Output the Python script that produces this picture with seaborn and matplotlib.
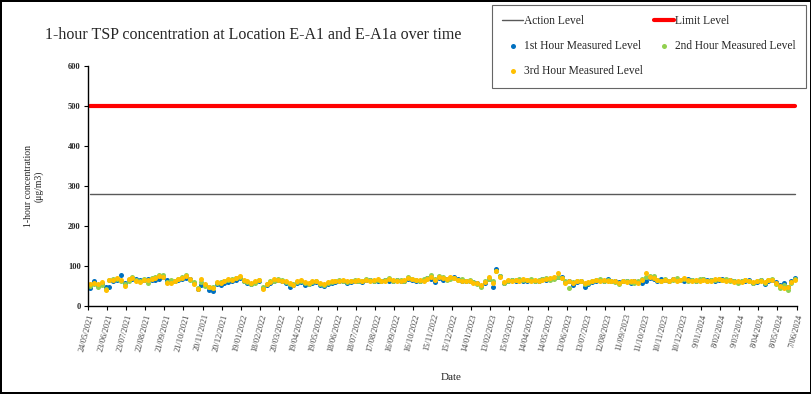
import matplotlib.pyplot as plt
import matplotlib.dates as mdates
import numpy as np
import pandas as pd
import seaborn as sns

# valores (ug/m3), una medicion cada 6 dias
hour1 = [46, 64, 52, 56, 48, 49, 62, 65, 79, 59,
         66, 68, 67, 66, 66, 67, 66, 65, 68, 72,
         66, 62, 63, 66, 68, 70, 68, 57, 42, 52,
         52, 40, 39, 55, 53, 58, 60, 64, 66, 70,
         62, 57, 55, 60, 62, 45, 52, 58, 62, 65,
         62, 58, 47, 53, 57, 60, 52, 55, 58, 60,
         53, 50, 55, 57, 60, 62, 63, 58, 60, 64,
         62, 60, 66, 66, 63, 64, 62, 65, 62, 63,
         65, 64, 63, 68, 66, 63, 64, 66, 70, 68,
         61, 70, 66, 68, 70, 72, 68, 64, 64, 63,
         60, 57, 50, 58, 68, 47, 93, 75, 58, 62,
         65, 64, 66, 63, 64, 66, 62, 64, 67, 66,
         68, 70, 73, 72, 60, 62, 52, 60, 62, 48,
         55, 60, 64, 66, 62, 68, 64, 62, 60, 63,
         62, 57, 62, 60, 57, 64, 70, 68, 64, 68,
         66, 64, 68, 65, 66, 64, 68, 66, 64, 66,
         67, 65, 66, 63, 66, 68, 65, 66, 64, 60,
         62, 64, 66, 57, 60, 66, 55, 64, 66, 60,
         52, 58, 48, 62, 70]
hour2 = [51, 55, 49, 53, 43, 65, 67, 67, 64, 55,
         64, 73, 66, 64, 67, 57, 70, 74, 77, 79,
         61, 66, 62, 67, 72, 77, 65, 60, 46, 60,
         50, 48, 47, 58, 60, 62, 66, 68, 70, 72,
         64, 60, 56, 58, 66, 48, 55, 62, 64, 68,
         66, 60, 55, 56, 60, 64, 58, 56, 60, 62,
         55, 54, 58, 60, 62, 66, 64, 60, 62, 65,
         63, 62, 68, 66, 64, 65, 63, 66, 70, 64,
         66, 65, 64, 72, 68, 66, 64, 67, 71, 79,
         68, 76, 72, 66, 68, 70, 66, 67, 64, 65,
         61, 55, 48, 63, 69, 62, 88, 75, 58, 64,
         66, 65, 68, 66, 65, 67, 64, 66, 68, 70,
         66, 69, 72, 70, 62, 46, 60, 63, 64, 55,
         58, 62, 66, 68, 64, 66, 63, 60, 56, 62,
         63, 60, 58, 62, 68, 74, 75, 76, 66, 64,
         67, 64, 66, 70, 65, 68, 64, 66, 62, 67,
         68, 64, 66, 65, 67, 66, 68, 64, 62, 58,
         64, 66, 63, 58, 62, 66, 57, 66, 67, 55,
         45, 52, 40, 58, 68]
hour3 = [56, 59, 55, 60, 40, 65, 66, 70, 65, 51,
         67, 71, 62, 61, 66, 65, 68, 71, 75, 74,
         59, 57, 64, 68, 70, 76, 67, 55, 44, 67,
         55, 47, 45, 60, 58, 64, 68, 66, 70, 76,
         66, 62, 58, 64, 65, 42, 56, 60, 68, 66,
         64, 62, 58, 54, 62, 66, 60, 58, 62, 64,
         58, 56, 60, 62, 63, 64, 66, 62, 64, 62,
         66, 64, 65, 63, 66, 68, 62, 64, 68, 66,
         64, 62, 66, 70, 67, 65, 66, 64, 68, 73,
         66, 74, 70, 67, 72, 70, 66, 64, 62, 63,
         58, 57, 52, 60, 72, 58, 87, 74, 60, 65,
         64, 66, 64, 67, 66, 64, 66, 63, 66, 68,
         70, 72, 84, 70, 58, 64, 58, 62, 62, 57,
         60, 64, 65, 63, 66, 64, 62, 64, 58, 62,
         60, 63, 64, 58, 65, 82, 72, 70, 66, 64,
         66, 62, 68, 64, 66, 70, 65, 64, 66, 64,
         66, 64, 64, 67, 68, 66, 64, 66, 60, 62,
         60, 66, 64, 60, 62, 64, 60, 65, 66, 58,
         50, 46, 47, 60, 66]
action_level = 280
limit_level = 500
title = "1-hour TSP concentration at Location E-A1 and E-A1a over time"

dates = pd.date_range("2021-05-28", periods=len(hour1), freq="6D")
df = pd.DataFrame({"date": dates, "h1": hour1, "h2": hour2, "h3": hour3,
                   "action": action_level, "limit": limit_level})

sns.set_theme(style="ticks")
plt.rcParams["font.family"] = ["Liberation Serif", "DejaVu Serif"]

fig = plt.figure(figsize=(8.12, 3.94), dpi=100, edgecolor="black", linewidth=1.5)
ax = fig.add_axes([0.108, 0.223, 0.873, 0.609])

sns.lineplot(data=df, x="date", y="action", color="#595959", lw=1, ax=ax, label="Action Level")
sns.lineplot(data=df, x="date", y="limit", color="#ff0000", lw=3, ax=ax, label="Limit Level")
sns.scatterplot(data=df, x="date", y="h1", color="#0070c0", s=13, linewidth=0, ax=ax,
                label="1st Hour Measured Level")
sns.scatterplot(data=df, x="date", y="h2", color="#92d050", s=13, linewidth=0, ax=ax,
                label="2nd Hour Measured Level")
sns.scatterplot(data=df, x="date", y="h3", color="#ffc000", s=13, linewidth=0, ax=ax,
                label="3rd Hour Measured Level")

# ejes
ax.set_ylim(0, 600)
ax.set_yticks(np.arange(0, 601, 100))
ax.set_xlim(mdates.date2num(pd.Timestamp("2021-05-24")), mdates.date2num(pd.Timestamp("2024-06-07")))
ticks = pd.date_range("2021-05-24", "2024-06-07", freq="30D")
ax.set_xticks(mdates.date2num(ticks))
ax.set_xticklabels([f"{d.day}/{d.month:02d}/{d.year}" for d in ticks], rotation=75,
                   ha="right", va="top", rotation_mode="anchor", fontsize=6, color="#404040")
for lab in ax.get_yticklabels():
    lab.set_fontsize(6)
    lab.set_fontweight("bold")
ax.tick_params(axis="both", length=3, width=0.8, color="black", pad=2)
for s in ["top", "right"]:
    ax.spines[s].set_visible(False)
for s in ["left", "bottom"]:
    ax.spines[s].set_color("black")
    ax.spines[s].set_linewidth(1)

ax.set_ylabel("1-hour concentration\n(μg/m3)", fontsize=7)
ax.yaxis.set_label_coords(-0.062, 0.5)
ax.set_xlabel("Date", fontsize=8)
ax.xaxis.set_label_coords(0.512, -0.28)

fig.text(0.055, 0.911, title, fontsize=11.5, va="center", ha="left")

# leyenda en filas: reordenar porque matplotlib llena por columnas
h, l = ax.get_legend_handles_labels()
ax.get_legend().remove()
order = [0, 2, 4, 1, 3]
leg = fig.legend([h[i] for i in order], [l[i] for i in order], loc="upper left",
                 bbox_to_anchor=(492 / 812, 1 - 5 / 394), borderaxespad=0, ncol=2,
                 fontsize=8.3, frameon=True, fancybox=False, edgecolor="#404040",
                 handlelength=1.8, handletextpad=0.1, labelspacing=1.13, columnspacing=0.9,
                 borderpad=0.9, markerscale=1.0)
leg.get_frame().set_linewidth(0.8)

fig.savefig("out.png", dpi=100, edgecolor=fig.get_edgecolor())
